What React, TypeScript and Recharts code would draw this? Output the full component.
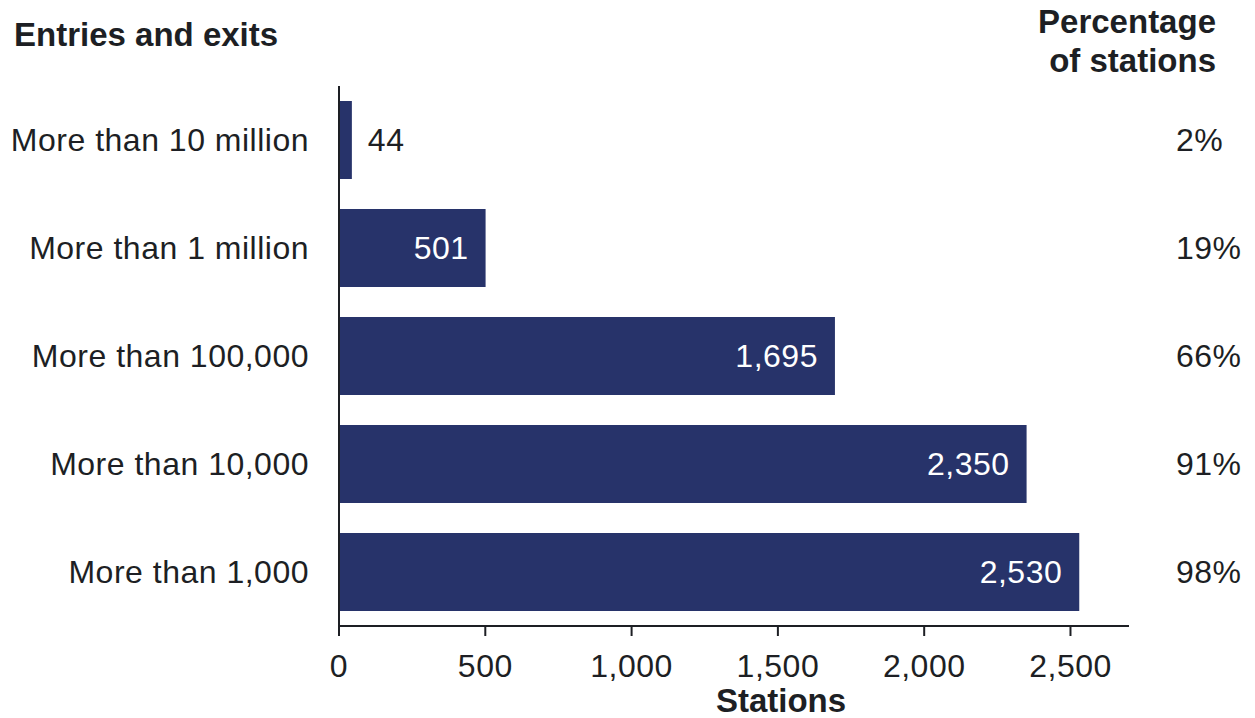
import { BarChart, Bar, XAxis, YAxis, LabelList } from 'recharts';

const categories = [
  'More than 10 million',
  'More than 1 million',
  'More than 100,000',
  'More than 10,000',
  'More than 1,000',
];
const stations = [44, 501, 1695, 2350, 2530];
const percentages = ['2%', '19%', '66%', '91%', '98%'];
const xTicks = [0, 500, 1000, 1500, 2000, 2500];

const data = categories.map((category, i) => ({
  category,
  stations: stations[i],
  pct: percentages[i],
}));

const TEXT = '#1d1f24';
const BAR = '#27336a';
const FONT = '"Liberation Sans", Arial, Helvetica, sans-serif';
const SIZE = 32;
const SPACING = 0.5;

const fmt = (v: number) => v.toLocaleString('en-US');

const CategoryTick = (props: any) => {
  const { x, y, payload } = props;
  return (
    <text x={x - 30} y={y} dy="0.35em" textAnchor="end" fill={TEXT}
      fontSize={SIZE} letterSpacing={SPACING} fontFamily={FONT}>
      {payload.value}
    </text>
  );
};

const PctTick = (props: any) => {
  const { x, y, payload } = props;
  return (
    <text x={x + 47} y={y} dy="0.35em" textAnchor="start" fill={TEXT}
      fontSize={SIZE} letterSpacing={SPACING} fontFamily={FONT}>
      {payload.value}
    </text>
  );
};

const NumberTick = (props: any) => {
  const { x, y, payload } = props;
  return (
    <text x={x} y={y + 41} textAnchor="middle" fill={TEXT}
      fontSize={SIZE} letterSpacing={SPACING} fontFamily={FONT}>
      {fmt(payload.value)}
    </text>
  );
};

const ValueLabel = (props: any) => {
  const { x, y, width, height, value } = props;
  const inside = width > 100;
  return (
    <text
      x={inside ? x + width - 17 : x + width + 16}
      y={y + height / 2}
      dy="0.35em"
      textAnchor={inside ? 'end' : 'start'}
      fill={inside ? '#ffffff' : TEXT}
      fontSize={SIZE}
      letterSpacing={SPACING}
      fontFamily={FONT}
    >
      {fmt(value)}
    </text>
  );
};

export default function App() {
  return (
    <div style={{ position: 'absolute', left: 0, top: 0, width: 1255, height: 718, background: '#fff' }}>
      <BarChart
        width={1255}
        height={718}
        data={data}
        layout="vertical"
        margin={{ top: 86, right: 0, bottom: 32, left: 0 }}
      >
        <XAxis
          type="number"
          domain={[0, 2700]}
          ticks={xTicks}
          allowDataOverflow
          height={60}
          tickSize={10}
          tickMargin={0}
          axisLine={{ stroke: TEXT, strokeWidth: 2 }}
          tickLine={{ stroke: TEXT, strokeWidth: 2 }}
          tick={<NumberTick />}
        />
        <YAxis
          yAxisId="cat"
          type="category"
          dataKey="category"
          width={339}
          tickSize={0}
          tickMargin={0}
          axisLine={{ stroke: TEXT, strokeWidth: 2 }}
          tickLine={false}
          tick={<CategoryTick />}
        />
        <YAxis
          yAxisId="pct"
          type="category"
          dataKey="pct"
          orientation="right"
          width={126}
          tickSize={0}
          tickMargin={0}
          axisLine={false}
          tickLine={false}
          tick={<PctTick />}
        />
        <Bar yAxisId="cat" dataKey="stations" fill={BAR} barSize={78} isAnimationActive={false}>
          <LabelList dataKey="stations" content={<ValueLabel />} />
        </Bar>
      </BarChart>
      <svg width={1255} height={718} style={{ position: 'absolute', left: 0, top: 0, pointerEvents: 'none' }}>
        <g fontFamily={FONT} fontWeight="bold" fontSize={33} fill={TEXT}>
          <text x={14} y={46}>Entries and exits</text>
          <text x={1216} y={33} textAnchor="end">Percentage</text>
          <text x={1216} y={72} textAnchor="end">of stations</text>
          <text x={781} y={712} textAnchor="middle">Stations</text>
        </g>
      </svg>
    </div>
  );
}
